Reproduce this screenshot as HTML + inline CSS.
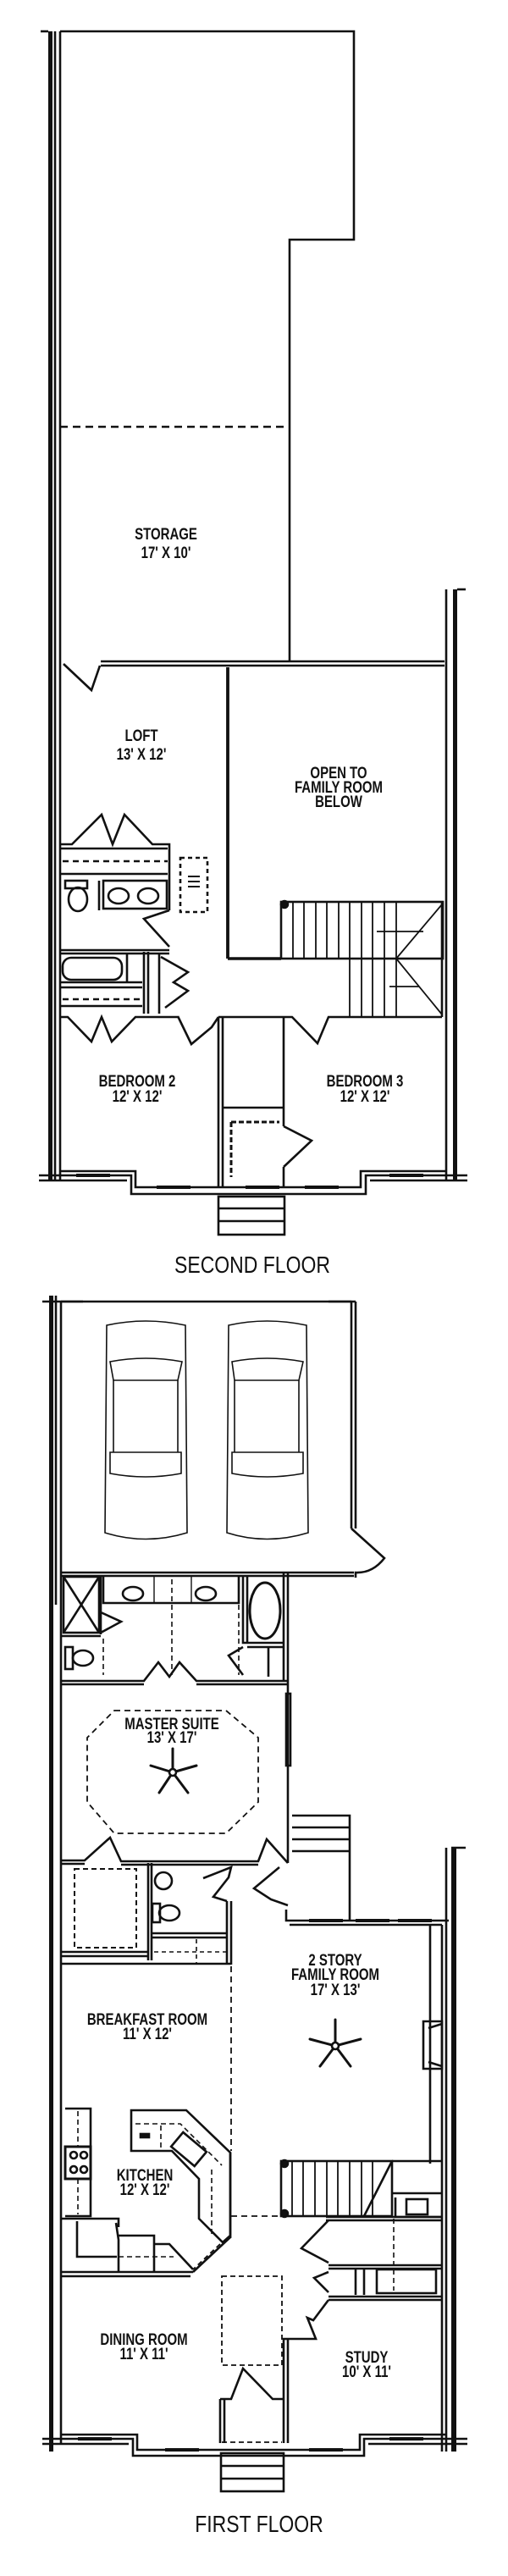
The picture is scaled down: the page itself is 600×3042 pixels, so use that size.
<!DOCTYPE html>
<html><head><meta charset="utf-8"><style>
html,body{margin:0;padding:0;background:#fff;}
svg{display:block;}
text{font-family:"Liberation Sans",sans-serif;fill:#111;}
.l{font-size:15px;font-weight:bold;text-anchor:middle;}
.t{font-size:23px;font-weight:normal;text-anchor:middle;}
</style></head><body>
<svg width="600" height="3042" viewBox="0 0 600 3042" xmlns="http://www.w3.org/2000/svg">
<g fill="none" stroke="#111" stroke-width="2.6" stroke-linejoin="miter">
<!-- ============ SECOND FLOOR ============ -->
<rect x="57" y="37" width="5" height="1358" fill="#111" stroke="none"/>
<line x1="65" y1="37" x2="65" y2="1395"/>
<line x1="71" y1="37" x2="71" y2="1395"/>
<line x1="48" y1="37" x2="57" y2="37"/>
<path d="M71,37 H418 V283 H342 V781"/>
<line x1="71" y1="504" x2="342" y2="504" stroke-dasharray="9,6"/>
<path d="M119,781 H525 M119,786 H525"/>
<path d="M75,784 L108,815 L118,786"/>
<line x1="527" y1="696" x2="527" y2="1395"/>
<rect x="535" y="696" width="5" height="699" fill="#111" stroke="none"/>
<line x1="540" y1="696" x2="550" y2="696"/>
<line x1="269" y1="788" x2="269" y2="1132" stroke-width="3.8"/>
<line x1="269" y1="1132" x2="332" y2="1132" stroke-width="3.4"/>
<rect x="332" y="1065" width="191" height="67"/>
<circle cx="336" cy="1068" r="4" fill="#111"/>
<g stroke-width="1.8">
<path d="M346,1065V1132 M359,1065V1132 M373,1065V1132 M386,1065V1132 M400,1065V1132 M413,1065V1132 M427,1065V1132 M440,1065V1132 M454,1065V1132 M468,1065V1132"/>
<path d="M468,1132 L522,1068 M468,1132 L522,1198"/>
<path d="M413,1132V1201 M427,1132V1201 M440,1132V1201 M454,1132V1201 M468,1132V1201"/>
<path d="M445,1100 H500 M460,1165 H495"/>
</g>
<line x1="522" y1="1065" x2="522" y2="1201"/>
<path d="M71,997 H85 L120,962 L133,997 L147,962 L180,997 H200 V1075"/>
<path d="M71,1002 H198 M71,1032 H198"/>
<line x1="74" y1="1017" x2="198" y2="1017" stroke-dasharray="7,5"/>
<rect x="77" y="1040" width="26" height="9"/>
<ellipse cx="92" cy="1062" rx="11" ry="14"/>
<line x1="117" y1="1040" x2="117" y2="1075"/>
<rect x="122" y="1040" width="75" height="33"/>
<ellipse cx="140" cy="1058" rx="12" ry="9"/>
<ellipse cx="175" cy="1058" rx="12" ry="9"/>
<path d="M200,1075 L170,1085 L200,1118"/>
<path d="M71,1122 H200 M71,1126 H200"/>
<rect x="74" y="1131" width="70" height="26" rx="10"/>
<line x1="150" y1="1126" x2="150" y2="1160"/>
<path d="M71,1160 H168 M71,1166 H168 M71,1188 H168"/>
<line x1="74" y1="1180" x2="165" y2="1180" stroke-dasharray="7,5"/>
<path d="M170,1124 V1197 M175,1124 V1197 M188,1126 V1197"/>
<path d="M190,1130 L222,1148 L205,1160 L222,1170 L195,1190"/>
<rect x="213" y="1013" width="32" height="64" stroke-dasharray="5,4"/>
<path d="M222,1035h14M222,1041h14M222,1047h14" stroke-width="2"/>
<path d="M71,1201 H80 L108,1230 L120,1201 L132,1230 L160,1201 H210"/>
<path d="M210,1200 L226,1233 L250,1213 L258,1201"/>
<path d="M258,1201 H335"/>
<path d="M258,1201 V1402 M263,1201 V1402 M335,1201 V1330 M335,1378 V1402"/>
<path d="M263,1308 H335"/>
<path d="M273,1325 H330 M273,1325 V1390" stroke-dasharray="6,3" stroke-width="3"/>
<path d="M335,1330 L368,1347 L335,1378"/>
<path d="M335,1201 H345 L375,1232 L388,1201 H522"/>
<path d="M46,1388 H155 V1410 H432 V1388 H552"/>
<path d="M46,1394 H150 M71,1383 H160 V1402 H426 V1383 H527 M437,1394 H552"/>
<path d="M90,1388h40M185,1402h40M290,1402h40M360,1402h40M460,1388h40" stroke-width="4"/>
<rect x="258" y="1413" width="78" height="45"/>
<path d="M258,1427H336M258,1442H336"/>

<!-- ============ FIRST FLOOR ============ -->
<path d="M50,1537 H98 M388,1537 H420"/>
<line x1="72" y1="1537" x2="415" y2="1537"/>
<rect x="58" y="1530" width="5" height="1365" fill="#111" stroke="none"/>
<line x1="66" y1="1530" x2="66" y2="1895"/>
<line x1="72" y1="1537" x2="72" y2="2885"/>
<path d="M415,1537 V1805 M420,1537 V1805"/>
<path d="M415,1805 L454,1840 Q440,1858 420,1857 V1863"/>
<path d="M72,1857 H418 M72,1861 H418"/>
<g stroke-width="1.6">
<path d="M126,1565 Q172,1555 219,1565 L221,1810 Q172,1825 124,1810 Z"/>
<path d="M130,1608 Q172,1600 215,1608 L210,1630 L134,1630 Z"/>
<path d="M130,1715 L214,1715 L214,1740 Q172,1748 130,1740 Z"/>
<path d="M134,1630 V1715 M210,1630 V1715"/>
<path d="M270,1565 Q315,1555 362,1565 L364,1810 Q315,1825 268,1810 Z"/>
<path d="M274,1608 Q315,1600 358,1608 L353,1630 L277,1630 Z"/>
<path d="M274,1715 L358,1715 L358,1740 Q315,1748 274,1740 Z"/>
<path d="M277,1630 V1715 M353,1630 V1715"/>
</g>
<rect x="75" y="1862" width="42" height="66"/>
<path d="M75,1862 L117,1928 M117,1862 L75,1928"/>
<path d="M119,1862 V1930 M119,1904 L143,1915 L119,1928"/>
<path d="M72,1932 H119"/>
<rect x="77" y="1945" width="9" height="26"/>
<ellipse cx="98" cy="1958" rx="12" ry="9"/>
<path d="M122,1862 V1893 H282 V1862"/>
<ellipse cx="157" cy="1882" rx="12" ry="8"/>
<ellipse cx="243" cy="1882" rx="12" ry="8"/>
<path d="M182,1862V1893 M226,1862V1893" stroke-width="1.4"/>
<path d="M122,1935 V1978 M282,1895 V1978 M203,1865 V1978" stroke-dasharray="6,4" stroke-width="1.6"/>
<path d="M287,1862 V1940 H335 M292,1862 V1940"/>
<ellipse cx="313" cy="1902" rx="18" ry="33" stroke-width="3"/>
<path d="M287,1945 L270,1955 L287,1978 M292,1945 H335 M317,1945 V1980"/>
<path d="M335,1857 V1985 M340,1857 V2200"/>
<rect x="338" y="2000" width="5" height="85"/>
<path d="M72,1985 H170 L187,1963 L200,1980 L212,1963 L232,1985 H340 M72,1989 H170 M232,1989 H340"/>
<polygon points="135,2020 267,2020 305,2052 305,2128 267,2165 135,2165 103,2128 103,2052" stroke-dasharray="7,5" stroke-width="1.8"/>
<g stroke-width="3" stroke-linecap="round">
<line x1="204" y1="2093" x2="204" y2="2065"/>
<line x1="204" y1="2093" x2="178" y2="2085"/>
<line x1="204" y1="2093" x2="232" y2="2085"/>
<line x1="204" y1="2093" x2="188" y2="2117"/>
<line x1="204" y1="2093" x2="222" y2="2117"/>
</g>
<circle cx="204" cy="2093" r="4" fill="#fff"/>
<path d="M72,2197 H100 L130,2170 L143,2198 H305 L315,2172 L340,2200"/>
<path d="M72,2201 H100 M143,2202 H305"/>
<rect x="88" y="2207" width="73" height="93" stroke-dasharray="6,4" stroke-width="2"/>
<path d="M72,2305 H175 M72,2310 H175 M175,2200 V2315 M179,2200 V2315"/>
<circle cx="193" cy="2221" r="10"/>
<rect x="180" y="2248" width="9" height="22"/>
<ellipse cx="200" cy="2259" rx="12" ry="9"/>
<path d="M179,2283 H268 M179,2288 H268 M268,2245 V2320 M273,2245 V2320"/>
<path d="M182,2305 H268 M232,2290 V2318" stroke-dasharray="5,4" stroke-width="1.6"/>
<path d="M268,2245 L252,2240 L270,2217 L273,2205 L240,2218"/>
<path d="M72,2319 H273"/>
<path d="M330,2205 L300,2230 L320,2243 L340,2250"/>
<path d="M345,2144 H413 V2268 M345,2158 H413 M345,2172 H413 M345,2186 H413"/>
<path d="M338,2255 V2268 H530"/>
<path d="M342,2273 H522"/>
<path d="M365,2268h40M420,2268h40M470,2268h40" stroke-width="4"/>
<path d="M533,2182 H550"/>
<rect x="533" y="2182" width="6" height="713" fill="#111" stroke="none"/>
<path d="M527,2182 V2895 M522,2273 V2895"/>
<path d="M508,2273 V2555"/>
<path d="M500,2387 H522 V2443 H500 Z M506,2395 L522,2390 M506,2435 L522,2440"/>
<g stroke-width="3" stroke-linecap="round">
<line x1="396" y1="2416" x2="396" y2="2385"/>
<line x1="396" y1="2416" x2="366" y2="2408"/>
<line x1="396" y1="2416" x2="426" y2="2408"/>
<line x1="396" y1="2416" x2="378" y2="2440"/>
<line x1="396" y1="2416" x2="414" y2="2440"/>
</g>
<circle cx="396" cy="2416" r="4" fill="#fff"/>
<line x1="273" y1="2322" x2="273" y2="2540" stroke-dasharray="7,5" stroke-width="1.8"/>
<line x1="273" y1="2617" x2="332" y2="2617" stroke-dasharray="7,5" stroke-width="1.8"/>
<path d="M77,2490 H107 V2617 H77"/>
<path d="M92,2493 V2615" stroke-dasharray="6,4" stroke-width="1.6"/>
<rect x="77" y="2535" width="30" height="38" fill="#fff" stroke-width="3"/>
<circle cx="87" cy="2545" r="4"/><circle cx="99" cy="2545" r="4"/><circle cx="87" cy="2562" r="4"/><circle cx="99" cy="2562" r="4"/>
<path d="M155,2492 H220 L272,2542 V2640 L263,2648 L235,2620 V2573 L203,2540 H155 Z"/>
<path d="M160,2508 H213 L262,2557 M190,2510 V2538 M250,2562 V2640" stroke-dasharray="6,4" stroke-width="1.6"/>
<rect x="205" y="2527" width="36" height="22" transform="rotate(40 223 2538)"/>
<rect x="166" y="2520" width="10" height="4" fill="#111"/>
<path d="M260,2650 L228,2680" stroke-dasharray="6,4" stroke-width="1.8"/>
<path d="M72,2620 H140 V2630 M91,2623 V2665 H138 M137,2625 L140,2645 V2683 M140,2640 H182 V2683 M182,2650 H200 L228,2680"/>
<path d="M140,2665 H205" stroke-dasharray="6,4" stroke-width="1.6"/>
<path d="M72,2683 H228 M72,2688 H225 M228,2683 L273,2641 M272,2542 V2641"/>
<rect x="332" y="2552" width="131" height="65"/>
<circle cx="336" cy="2555" r="4" fill="#111"/><circle cx="336" cy="2614" r="4" fill="#111"/>
<g stroke-width="1.8"><path d="M345,2552V2617 M358,2552V2617 M372,2552V2617 M386,2552V2617 M399,2552V2617 M413,2552V2617 M427,2552V2617 M440,2552V2617"/></g>
<path d="M463,2552 L430,2617 M463,2552 H522"/>
<path d="M462,2590 H522 M467,2595 V2618 H522"/>
<rect x="480" y="2597" width="25" height="18"/>
<path d="M385,2618 H522 M385,2622 H522"/>
<path d="M465,2620 V2705" stroke-dasharray="6,4" stroke-width="1.6"/>
<path d="M388,2622 L356,2655 L388,2672"/>
<path d="M388,2675 H522 M388,2679 H522"/>
<path d="M388,2683 L371,2690 L388,2707 M420,2678 V2710 M430,2678 V2710"/>
<rect x="445" y="2680" width="70" height="28"/>
<path d="M388,2712 H522 M388,2716 H522"/>
<path d="M388,2716 L370,2740 L363,2737 L373,2762 H335 V2885 M340,2762 V2885"/>
<rect x="262" y="2688" width="71" height="105" stroke-dasharray="6,4" stroke-width="1.8"/>
<path d="M260,2833 V2885 M265,2833 V2885 M260,2833 H273 L287,2797 L322,2833 H335"/>
<line x1="262" y1="2884" x2="333" y2="2884" stroke-dasharray="6,4" stroke-width="1.8"/>
<path d="M50,2880 H157 V2900 H430 V2880 H552"/>
<path d="M50,2886 H152 M72,2875 H162 V2893 H425 V2875 H527 M435,2886 H552"/>
<path d="M92,2880h40M195,2893h40M365,2893h40M460,2880h40" stroke-width="4"/>
<rect x="261" y="2897" width="74" height="45"/>
<path d="M261,2912H335M261,2927H335"/>
</g>

<g>
<text class="l" transform="translate(196,637) scale(1,1.3)">STORAGE</text>
<text class="l" transform="translate(196,659) scale(1,1.3)">17' X 10'</text>
<text class="l" transform="translate(167,875) scale(1,1.3)">LOFT</text>
<text class="l" transform="translate(167,897) scale(1,1.3)">13' X 12'</text>
<text class="l" transform="translate(400,919) scale(1,1.3)">OPEN TO</text>
<text class="l" transform="translate(400,936) scale(1,1.3)">FAMILY ROOM</text>
<text class="l" transform="translate(400,953) scale(1,1.3)">BELOW</text>
<text class="l" transform="translate(162,1283) scale(1,1.3)">BEDROOM 2</text>
<text class="l" transform="translate(162,1301) scale(1,1.3)">12' X 12'</text>
<text class="l" transform="translate(431,1283) scale(1,1.3)">BEDROOM 3</text>
<text class="l" transform="translate(431,1301) scale(1,1.3)">12' X 12'</text>
<text class="t" transform="translate(298,1503) scale(1,1.2)">SECOND FLOOR</text>
<text class="l" transform="translate(203,2042) scale(1,1.3)">MASTER SUITE</text>
<text class="l" transform="translate(203,2058) scale(1,1.3)">13' X 17'</text>
<text class="l" transform="translate(396,2321) scale(1,1.3)">2 STORY</text>
<text class="l" transform="translate(396,2338) scale(1,1.3)">FAMILY ROOM</text>
<text class="l" transform="translate(396,2356) scale(1,1.3)">17' X 13'</text>
<text class="l" transform="translate(174,2391) scale(1,1.3)">BREAKFAST ROOM</text>
<text class="l" transform="translate(174,2408) scale(1,1.3)">11' X 12'</text>
<text class="l" transform="translate(171,2575) scale(1,1.3)">KITCHEN</text>
<text class="l" transform="translate(171,2592) scale(1,1.3)">12' X 12'</text>
<text class="l" transform="translate(170,2769) scale(1,1.3)">DINING ROOM</text>
<text class="l" transform="translate(170,2786) scale(1,1.3)">11' X 11'</text>
<text class="l" transform="translate(433,2790) scale(1,1.3)">STUDY</text>
<text class="l" transform="translate(433,2807) scale(1,1.3)">10' X 11'</text>
<text class="t" transform="translate(306,2990) scale(1,1.2)">FIRST FLOOR</text>
</g>
</svg>
</body></html>
